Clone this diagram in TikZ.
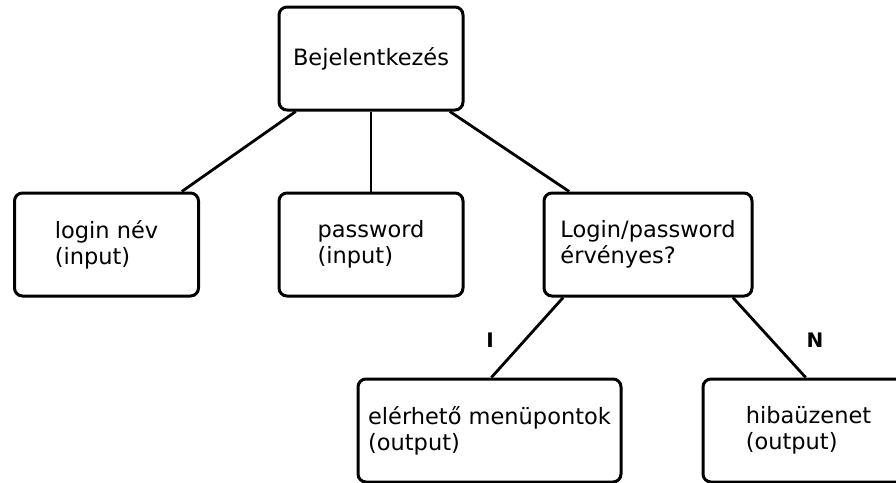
\documentclass[tikz,border=0pt]{standalone}
\usepackage{fontspec}
\setmainfont{DejaVu Sans}
\begin{document}
\begin{tikzpicture}[x=1pt, y=-1pt,
   box/.style={draw, line width=3pt, rounded corners=8pt, minimum height=103pt,
               align=left, inner sep=0pt, font=\fontsize{22.5}{26}\selectfont},
   link/.style={line width=2.8pt},
   tag/.style={font=\bfseries\fontsize{20}{24}\selectfont}]
   \useasboundingbox (0,0) rectangle (896,482);
   \clip (0,0) rectangle (896,482);
   \node[box, minimum width=184pt] (bejel) at (371,58.5) {Bejelentkezés};
   \node[box, minimum width=184pt] (nev) at (106.5,244.5) {login név\\(input)};
   \node[box, minimum width=184pt] (jelszo) at (371,244.5) {password\\(input)};
   \node[box, minimum width=208pt] (ervenyes) at (648,244.5) {Login/password\\érvényes?};
   \node[box, minimum width=263pt] (menu) at (489.5,430.5) {elérhető menüpontok\\(output)};
   \node[box, minimum width=211pt] (hiba) at (808.5,430.5) {hibaüzenet\\(output)};
   \draw[link] (bejel) -- (nev);
   \draw[link] (bejel) -- (jelszo);
   \draw[link] (bejel) -- (ervenyes);
   \draw[link] (ervenyes.212) -- (menu.88);
   \draw[link] (ervenyes.328) -- (hiba.93);
   \node[tag] (igen) at (490,340) {I};
   \node[tag] (nem) at (815,340) {N};
\end{tikzpicture}
\end{document}
